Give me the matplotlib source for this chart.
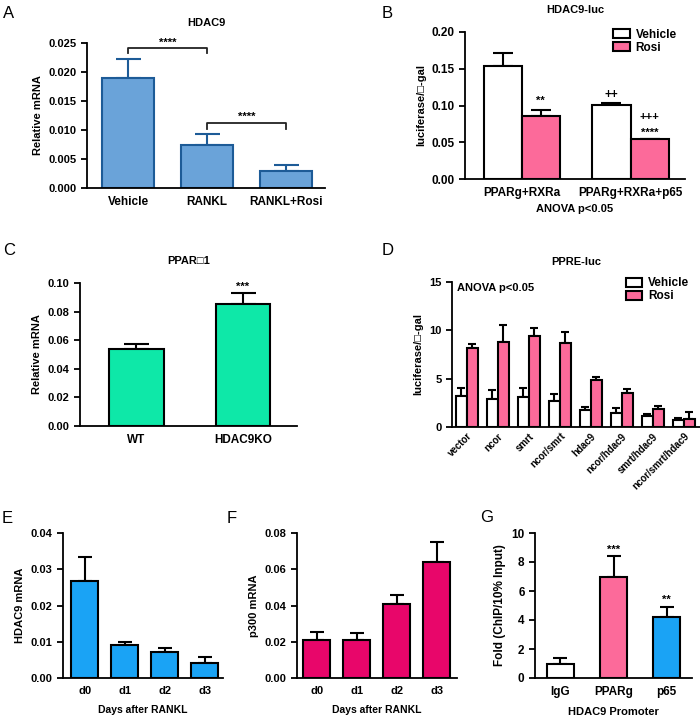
import numpy as np
import matplotlib
matplotlib.use("Agg")
import matplotlib.pyplot as plt

plt.rcParams['font.family'] = ['Liberation Sans', 'DejaVu Sans']
plt.rcParams['font.weight'] = 'bold'

# ---- data ----
a_labels = ["Vehicle", "RANKL", "RANKL+Rosi"]
a_vals = [0.0190, 0.0074, 0.0029]
a_err = [0.0032, 0.0019, 0.0011]

b_groups = ["PPARg+RXRa", "PPARg+RXRa+p65"]
b_vehicle = [0.154, 0.101]
b_vehicle_err = [0.017, 0.003]
b_rosi = [0.086, 0.054]
b_rosi_err = [0.008, 0.001]

c_labels = ["WT", "HDAC9KO"]
c_vals = [0.0535, 0.085]
c_err = [0.004, 0.008]

d_groups = ["vector", "ncor", "smrt", "ncor/smrt", "hdac9", "ncor/hdac9",
            "smrt/hdac9", "ncor/smrt/hdac9"]
d_vehicle = [3.2, 2.9, 3.1, 2.7, 1.8, 1.4, 1.1, 0.75]
d_vehicle_err = [0.8, 0.9, 0.9, 0.7, 0.3, 0.6, 0.2, 0.2]
d_rosi = [8.2, 8.8, 9.4, 8.7, 4.9, 3.5, 1.9, 0.85]
d_rosi_err = [0.4, 1.8, 0.8, 1.1, 0.3, 0.4, 0.3, 0.65]

days = ["d0", "d1", "d2", "d3"]
e_vals = [0.0268, 0.0092, 0.0072, 0.0042]
e_err = [0.0065, 0.0008, 0.0012, 0.0016]
f_vals = [0.021, 0.021, 0.041, 0.064]
f_err = [0.0045, 0.004, 0.005, 0.011]

g_labels = ["IgG", "PPARg", "p65"]
g_vals = [1.0, 6.95, 4.2]
g_err = [0.4, 1.45, 0.7]

PINK = "#fc6a9a"
BLUE = "#1aa3f5"

fig = plt.figure(figsize=(7, 7.19), dpi=100)


def px_axes(x0, y0, x1, y1):
    # axes from pixel box (top-left origin)
    return fig.add_axes([x0 / 700, 1 - y1 / 719, (x1 - x0) / 700, (y1 - y0) / 719])


def style(ax, ticks, fmt, tsize=8):
    for s in ["top", "right"]:
        ax.spines[s].set_visible(False)
    for s in ["left", "bottom"]:
        ax.spines[s].set_linewidth(1.3)
    ax.set_yticks(ticks)
    ax.set_yticklabels([fmt.format(t) for t in ticks], fontsize=tsize, fontweight='bold')
    ax.set_ylim(ticks[0], ticks[-1])
    ax.tick_params(direction='out', length=4, width=1.3)
    ax.tick_params(axis='x', length=0, pad=6)


def bars(ax, x, vals, err, color, edge, width, capsize):
    ax.errorbar(x, vals, yerr=[np.zeros(len(vals)), err], fmt='none', ecolor=edge,
                elinewidth=1.5, capsize=capsize, capthick=1.5, zorder=1)
    ax.bar(x, vals, width=width, color=color, edgecolor=edge, linewidth=1.5, zorder=2)


def legend(ax, anchor):
    h1 = plt.Rectangle((0, 0), 1, 1, fc='white', ec='black', lw=1.5)
    h2 = plt.Rectangle((0, 0), 1, 1, fc=PINK, ec='black', lw=1.5)
    ax.legend([h1, h2], ["Vehicle", "Rosi"], loc='upper right', bbox_to_anchor=anchor,
              frameon=False, fontsize=8.5, handlelength=1.4, handleheight=0.8,
              labelspacing=0.1, handletextpad=0.5, borderpad=0.2)


# ---- A ----
ax = px_axes(87, 43, 325, 188)
x = np.arange(3)
bars(ax, x, a_vals, a_err, "#6aa3d9", "#1d5b97", 0.66, 9)
style(ax, np.arange(0, 0.0251, 0.005), "{:.3f}")
ax.set_xlim(-0.52, 2.49)
ax.set_xticks(x)
ax.set_xticklabels(a_labels, fontsize=8.5, fontweight='bold')
ax.set_ylabel("Relative mRNA", fontsize=8, fontweight='bold')
ax.set_title("HDAC9", fontsize=8, fontweight='bold', pad=12)
ax.plot([0, 0, 1, 1], [0.0232, 0.0241, 0.0241, 0.0232], color='#222222', lw=1.3, clip_on=False)
ax.text(0.5, 0.0251, "****", ha='center', va='center', fontsize=8, clip_on=False)
ax.plot([1, 1, 2, 2], [0.0101, 0.0112, 0.0112, 0.0101], color='#222222', lw=1.3)
ax.text(1.5, 0.0123, "****", ha='center', va='center', fontsize=8)

# ---- B ----
ax = px_axes(465, 32, 685, 179)
x = np.arange(2)
w = 0.35
bars(ax, x - w / 2, b_vehicle, b_vehicle_err, "white", "black", w, 7)
bars(ax, x + w / 2, b_rosi, b_rosi_err, PINK, "black", w, 7)
style(ax, np.arange(0, 0.201, 0.05), "{:.2f}", 8.5)
ax.set_xlim(-0.52, 1.5)
ax.set_xticks(x)
ax.set_xticklabels(b_groups, fontsize=8.5, fontweight='bold')
ax.set_xlabel("ANOVA p<0.05", fontsize=8, fontweight='bold', labelpad=3)
ax.set_ylabel("luciferase/\u25a1-gal", fontsize=8, fontweight='bold')
ax.set_title("HDAC9-luc", fontsize=8, fontweight='bold', pad=14)
ax.text(0 + w / 2, 0.1065, "**", ha='center', va='center', fontsize=8)
ax.text(1 - w / 2, 0.114, "++", ha='center', va='center', fontsize=8.5)
ax.text(1 + w / 2, 0.084, "+++", ha='center', va='center', fontsize=8)
ax.text(1 + w / 2, 0.063, "****", ha='center', va='center', fontsize=8)
legend(ax, (1.0, 1.08))

# ---- C ----
ax = px_axes(80, 283, 297, 426)
x = np.arange(2)
bars(ax, x, c_vals, c_err, "#0ee8a8", "black", 0.51, 9)
style(ax, np.arange(0, 0.101, 0.02), "{:.2f}")
ax.set_xlim(-0.53, 1.51)
ax.set_xticks(x)
ax.set_xticklabels(c_labels, fontsize=8.5, fontweight='bold')
ax.set_ylabel("Relative mRNA", fontsize=8, fontweight='bold')
ax.set_title("PPAR\u25a11", fontsize=8, fontweight='bold', pad=14)
ax.text(1, 0.0974, "***", ha='center', va='center', fontsize=8, clip_on=False)

# ---- D ----
ax = px_axes(452, 282, 700, 427)
x = np.arange(len(d_groups))
w = 0.355
bars(ax, x - w / 2, d_vehicle, d_vehicle_err, "white", "black", w, 3)
bars(ax, x + w / 2, d_rosi, d_rosi_err, PINK, "black", w, 3)
style(ax, [0, 5, 10, 15], "{:d}")
ax.set_xlim(-0.48, 7.52)
ax.set_xticks(x)
ax.set_xticklabels(d_groups, fontsize=7, fontweight='bold', rotation=45, ha='right',
                   rotation_mode='anchor')
ax.tick_params(axis='x', pad=3)
ax.set_ylabel("luciferase/\u25a1-gal", fontsize=8, fontweight='bold')
ax.set_title("PPRE-luc", fontsize=8, fontweight='bold', pad=12)
ax.text(0.02, 0.96, "ANOVA p<0.05", transform=ax.transAxes, ha='left', va='center', fontsize=8)
legend(ax, (0.99, 1.09))

# ---- E ----
ax = px_axes(63, 533, 223, 678)
x = np.arange(4)
bars(ax, x, e_vals, e_err, BLUE, "black", 0.675, 5)
style(ax, np.arange(0, 0.0401, 0.01), "{:.2f}", 8)
ax.set_xlim(-0.54, 3.46)
ax.set_xticks(x)
ax.set_xticklabels(days, fontsize=8, fontweight='bold')
ax.set_ylabel("HDAC9 mRNA", fontsize=8, fontweight='bold')
ax.set_xlabel("Days after RANKL", fontsize=7.5, fontweight='bold', labelpad=6)

# ---- F ----
ax = px_axes(297, 533, 457, 678)
bars(ax, x, f_vals, f_err, "#e8066a", "black", 0.675, 5)
style(ax, np.arange(0, 0.0801, 0.02), "{:.2f}", 8)
ax.set_xlim(-0.49, 3.51)
ax.set_xticks(x)
ax.set_xticklabels(days, fontsize=8, fontweight='bold')
ax.set_ylabel("p300 mRNA", fontsize=8, fontweight='bold')
ax.set_xlabel("Days after RANKL", fontsize=7.5, fontweight='bold', labelpad=6)

# ---- G ----
ax = px_axes(535, 533, 692, 678)
x = np.arange(3)
bars(ax, x, g_vals, g_err, ["white", PINK, BLUE], "black", 0.51, 5)
style(ax, np.arange(0, 10.1, 2), "{:.0f}", 8.5)
ax.set_xlim(-0.48, 2.48)
ax.set_xticks(x)
ax.set_xticklabels(g_labels, fontsize=8.5, fontweight='bold')
ax.set_ylabel("Fold (ChIP/10% Input)", fontsize=8.5, fontweight='bold')
ax.set_xlabel("HDAC9 Promoter", fontsize=8, fontweight='bold', labelpad=6)
ax.text(1, 8.83, "***", ha='center', va='center', fontsize=8)
ax.text(2, 5.38, "**", ha='center', va='center', fontsize=8)

# panel letters
for lab, px, py in [("A", 3, 18), ("B", 382, 18), ("C", 3, 255), ("D", 382, 255),
                    ("E", 2, 523), ("F", 227, 523), ("G", 480, 522)]:
    fig.text(px / 700, 1 - py / 719, lab, fontsize=12, fontweight='normal',
             ha='left', va='baseline')

fig.savefig("out.png", dpi=100)
